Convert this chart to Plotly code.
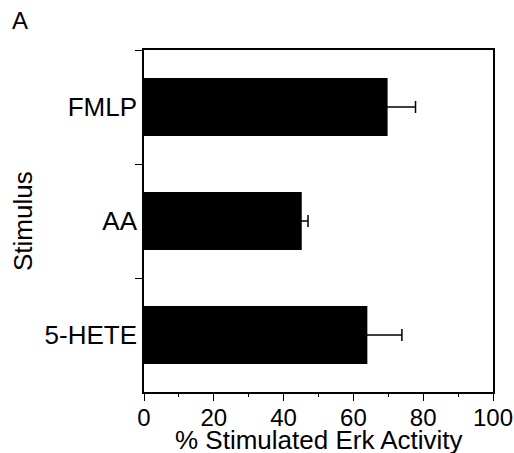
import plotly.graph_objects as go

stimuli = ["FMLP", "AA", "5-HETE"]
activity = [69.8, 45.2, 64.0]
error = [8.0, 1.8, 9.9]
x_ticks = [0, 20, 40, 60, 80, 100]

FONT = "Liberation Sans, Arial, Helvetica, sans-serif"

fig = go.Figure()
fig.add_trace(go.Bar(
    y=stimuli, x=activity, orientation="h",
    marker=dict(color="black", line=dict(width=0)),
    width=0.51,
    error_x=dict(type="data", array=error, symmetric=True,
                 color="black", thickness=1.5, width=6),
))

fig.update_layout(
    width=514, height=453,
    margin=dict(l=144, r=21, t=50, b=61, autoexpand=False),
    paper_bgcolor="white", plot_bgcolor="white",
    showlegend=False,
    font=dict(family=FONT, color="black"),
    xaxis=dict(
        range=[0, 100], tickvals=x_ticks, ticktext=[str(v) for v in x_ticks],
        ticks="outside", ticklen=7, tickwidth=1.2, tickcolor="black",
        minor=dict(dtick=10, ticks="outside", ticklen=3, tickwidth=1, tickcolor="black"),
        showline=True, linecolor="black", linewidth=1.5, mirror=True,
        showgrid=False, zeroline=False, automargin=False,
        tickfont=dict(size=24, family=FONT), ticklabelstandoff=-4,
    ),
    yaxis=dict(
        categoryorder="array", categoryarray=stimuli, autorange="reversed",
        tickson="boundaries", ticks="outside", ticklen=7, tickwidth=1.2, tickcolor="black",
        showline=True, linecolor="black", linewidth=1.5, mirror=True,
        showgrid=False, zeroline=False, automargin=False,
        tickfont=dict(size=26, family=FONT),
    ),
    annotations=[
        dict(text="% Stimulated Erk Activity", xref="paper", yref="paper",
             x=0.5, y=-0.14, xanchor="center", yanchor="middle", showarrow=False,
             font=dict(size=26, family=FONT)),
        dict(text="Stimulus", xref="paper", yref="paper",
             x=-0.3467, y=0.5, xanchor="center", yanchor="middle", showarrow=False,
             textangle=-90, font=dict(size=26, family=FONT)),
        dict(text="A", xref="paper", yref="paper",
             x=-0.354, y=1.0863, xanchor="center", yanchor="middle", showarrow=False,
             font=dict(size=24, family=FONT)),
    ],
)

fig.write_html("out.html", config={"displayModeBar": False},
               post_script="document.body.style.margin='0';")
